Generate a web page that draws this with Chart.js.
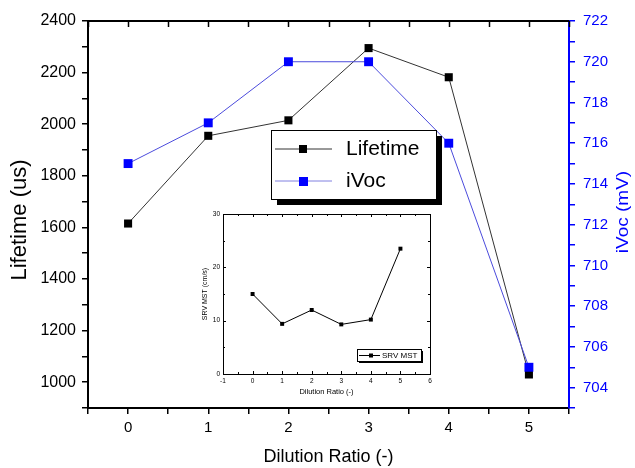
<!DOCTYPE html>
<html>
<head>
<meta charset="utf-8">
<script src="https://cdn.jsdelivr.net/npm/chart.js@4"></script>
<style>
body{margin:0;background:#fff}
#wrap{position:relative;width:635px;height:468px}
canvas{position:absolute}
</style>
</head>
<body>
<div id="wrap">
  <canvas id="main" width="635" height="468" style="left:0;top:0"></canvas>
  <canvas id="inset" width="255" height="200" style="left:190px;top:200px"></canvas>
</div>
<script>
// --- DATI ---
const ratio = [0, 1, 2, 3, 4, 5];
const lifetime = [1615, 1955, 2015, 2295, 2182, 1030];
const ivoc = [715, 717, 720, 720, 716, 705];
const srvMst = [15, 9.4, 12, 9.3, 10.2, 23.5];

const FONT = "'Liberation Sans', Arial, sans-serif";
Chart.defaults.font.family = FONT;
Chart.defaults.color = '#000';

const BLUE = '#0000ff';
const BLUE_LINE = '#4b4bdc';

const toPts = arr => ratio.map((x, i) => ({x, y: arr[i]}));

// --- PLUGIN: cornice sopra + tick interni, titoli verticali ---
const cornice = {
  id: 'cornice',
  afterDraw(chart) {
    const c = chart.ctx, a = chart.chartArea, sx = chart.scales.x;
    c.save();
    c.strokeStyle = '#000';
    c.lineWidth = 2;
    c.beginPath();
    c.moveTo(a.left, a.top); c.lineTo(a.right, a.top);
    c.stroke();
    c.lineWidth = 1.5;
    sx.ticks.forEach(t => {
      const px = Math.round(sx.getPixelForValue(t.value)) + 0.5;
      c.beginPath(); c.moveTo(px, a.top); c.lineTo(px, a.top + 6); c.stroke();
    });
    // titoli assi verticali (entrambi letti dal basso verso l'alto)
    c.textAlign = 'center';
    c.textBaseline = 'middle';
    c.translate(20, 220); c.rotate(-Math.PI / 2);
    c.fillStyle = '#000'; c.font = "22px " + FONT;
    c.fillText('Lifetime (us)', 0, 0);
    c.setTransform(1, 0, 0, 1, 0, 0);
    c.translate(624, 212); c.rotate(-Math.PI / 2); c.scale(1, 0.85);
    c.fillStyle = BLUE; c.font = "19px " + FONT;
    c.fillText('iVoc (mV)', 0, 0);
    c.restore();
  }
};

// --- PLUGIN: legenda con ombra ---
const legenda = {
  id: 'legenda',
  afterDraw(chart) {
    const c = chart.ctx;
    c.save();
    c.fillStyle = '#000'; c.fillRect(277, 136, 165, 69);
    c.fillStyle = '#fff'; c.fillRect(271, 130, 165, 69);
    c.strokeStyle = '#000'; c.lineWidth = 1; c.strokeRect(271.5, 130.5, 165, 69);
    // Lifetime
    c.strokeStyle = '#333'; c.beginPath(); c.moveTo(275, 149); c.lineTo(332, 149); c.stroke();
    c.fillStyle = '#000'; c.fillRect(299, 145, 8, 8);
    // iVoc
    c.strokeStyle = '#8080e0'; c.beginPath(); c.moveTo(275, 181); c.lineTo(332, 181); c.stroke();
    c.fillStyle = BLUE; c.fillRect(299, 177, 9, 9);
    c.fillStyle = '#000'; c.font = "21px " + FONT; c.textBaseline = 'middle';
    c.fillText('Lifetime', 346, 149);
    c.fillText('iVoc', 346, 181);
    c.restore();
  }
};

new Chart(document.getElementById('main'), {
  type: 'line',
  data: {
    datasets: [
      {
        label: 'iVoc', data: toPts(ivoc), yAxisID: 'y1',
        borderColor: BLUE_LINE, borderWidth: 1,
        pointStyle: 'rect', pointRadius: 6.3, pointBackgroundColor: BLUE, pointBorderWidth: 0
      },
      {
        label: 'Lifetime', data: toPts(lifetime), yAxisID: 'y',
        borderColor: '#333', borderWidth: 1,
        pointStyle: 'rect', pointRadius: 5.7, pointBackgroundColor: '#000', pointBorderWidth: 0
      }
    ]
  },
  options: {
    responsive: false,
    animation: false,
    layout: {padding: {top: 21, left: 0, right: 0, bottom: 0}},
    plugins: {legend: {display: false}, tooltip: {enabled: false}},
    scales: {
      x: {
        type: 'linear', min: -0.5, max: 5.5,
        afterFit: s => { s.height = 60; },
        ticks: {stepSize: 0.5, autoSkip: false, maxRotation: 0, padding: 5,
          callback: v => Number.isInteger(v) ? v : '', font: {size: 15}},
        grid: {drawOnChartArea: false, color: '#000', lineWidth: 1.5, tickLength: 6},
        border: {color: '#000', width: 2},
        title: {display: true, text: 'Dilution Ratio (-)', font: {size: 18}, padding: {top: 0, bottom: 0}}
      },
      y: {
        position: 'left', min: 900, max: 2400,
        afterFit: s => { s.width = 88; },
        ticks: {stepSize: 100, autoSkip: false, padding: 6,
          callback: v => (v % 200 === 0) ? v : '', font: {size: 16}},
        grid: {drawOnChartArea: false, color: '#000', lineWidth: 1.5, tickLength: 6},
        border: {color: '#000', width: 2}
      },
      y1: {
        position: 'right', min: 703, max: 722,
        afterFit: s => { s.width = 66; },
        ticks: {stepSize: 1, autoSkip: false, padding: 8, color: BLUE,
          callback: v => (v % 2 === 0) ? v : '', font: {size: 15}},
        grid: {drawOnChartArea: false, color: BLUE, lineWidth: 1.5, tickLength: 6},
        border: {color: BLUE, width: 2}
      }
    }
  },
  plugins: [cornice, legenda]
});

// --- INSERTO SRV MST ---
const corniceInset = {
  id: 'corniceInset',
  afterDraw(chart) {
    const c = chart.ctx, a = chart.chartArea, sx = chart.scales.x, sy = chart.scales.y;
    c.save();
    c.strokeStyle = '#000'; c.lineWidth = 1;
    c.strokeRect(a.left + 0.5, a.top + 0.5, a.right - a.left, a.bottom - a.top);
    sx.ticks.forEach(t => {
      const px = Math.round(sx.getPixelForValue(t.value)) + 0.5;
      const l = Number.isInteger(t.value) ? 3 : 2;
      c.beginPath(); c.moveTo(px, a.top); c.lineTo(px, a.top + l);
      c.moveTo(px, a.bottom); c.lineTo(px, a.bottom - l); c.stroke();
    });
    sy.ticks.forEach(t => {
      const py = Math.round(sy.getPixelForValue(t.value)) + 0.5;
      const l = (t.value % 10 === 0) ? 3 : 2;
      c.beginPath(); c.moveTo(a.left, py); c.lineTo(a.left + l, py);
      c.moveTo(a.right, py); c.lineTo(a.right - l, py); c.stroke();
    });
    // legenda
    c.fillStyle = '#000'; c.fillRect(169, 151, 64, 12);
    c.fillStyle = '#fff'; c.fillRect(167, 149, 64, 12);
    c.strokeRect(167.5, 149.5, 64, 12);
    c.beginPath(); c.moveTo(169, 155.5); c.lineTo(190, 155.5); c.stroke();
    c.fillStyle = '#000'; c.fillRect(179, 153.5, 4, 4);
    c.font = "8px " + FONT; c.textBaseline = 'middle';
    c.fillText('SRV MST', 192, 155.5);
    c.restore();
  }
};

new Chart(document.getElementById('inset'), {
  type: 'line',
  data: {
    datasets: [{
      label: 'SRV MST', data: toPts(srvMst),
      borderColor: '#000', borderWidth: 1,
      pointStyle: 'rect', pointRadius: 2.8, pointBackgroundColor: '#000', pointBorderWidth: 0
    }]
  },
  options: {
    responsive: false,
    animation: false,
    layout: {padding: {top: 14, right: 15, left: 0, bottom: 0}},
    plugins: {legend: {display: false}, tooltip: {enabled: false}},
    scales: {
      x: {
        type: 'linear', min: -1, max: 6,
        afterFit: s => { s.height = 26; },
        ticks: {stepSize: 0.5, autoSkip: false, maxRotation: 0, padding: 3,
          callback: v => Number.isInteger(v) ? v : '', font: {size: 6.5}},
        grid: {drawOnChartArea: false, drawTicks: false},
        border: {color: '#000', width: 1},
        title: {display: true, text: 'Dilution Ratio (-)', font: {size: 7.5}, padding: {top: 0, bottom: 3.5}}
      },
      y: {
        min: 0, max: 30,
        afterFit: s => { s.width = 33; },
        ticks: {stepSize: 5, autoSkip: false, padding: 3,
          callback: v => (v % 10 === 0) ? v : '', font: {size: 6.5}},
        grid: {drawOnChartArea: false, drawTicks: false},
        border: {color: '#000', width: 1},
        title: {display: true, text: 'SRV MST (cm/s)', font: {size: 7}, padding: {top: 10.8, bottom: 0}}
      }
    }
  },
  plugins: [corniceInset]
});
</script>
</body>
</html>
